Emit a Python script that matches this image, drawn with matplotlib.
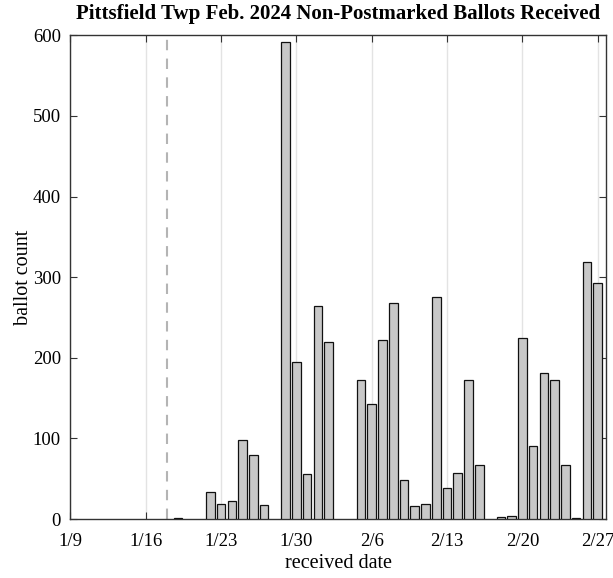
import datetime as dt

import matplotlib
matplotlib.use("Agg")
import matplotlib.pyplot as plt

plt.rcParams["font.family"] = ["Liberation Serif", "DejaVu Serif"]

# received date -> number of non-postmarked ballots
dates = [
    "2024-01-19", "2024-01-22", "2024-01-23", "2024-01-24", "2024-01-25",
    "2024-01-26", "2024-01-27", "2024-01-29", "2024-01-30", "2024-01-31",
    "2024-02-01", "2024-02-02", "2024-02-05", "2024-02-06", "2024-02-07",
    "2024-02-08", "2024-02-09", "2024-02-10", "2024-02-11", "2024-02-12",
    "2024-02-13", "2024-02-14", "2024-02-15", "2024-02-16", "2024-02-18",
    "2024-02-19", "2024-02-20", "2024-02-21", "2024-02-22", "2024-02-23",
    "2024-02-24", "2024-02-25", "2024-02-26", "2024-02-27",
]
counts = [
    1, 34, 19, 22, 98,
    80, 17, 592, 195, 56,
    264, 220, 173, 143, 222,
    268, 48, 16, 19, 276,
    38, 57, 172, 67, 3,
    4, 224, 91, 181, 173,
    67, 1, 319, 293,
]
tick_dates = ["2024-01-09", "2024-01-16", "2024-01-23", "2024-01-30",
              "2024-02-06", "2024-02-13", "2024-02-20", "2024-02-27"]
cutoff_date = "2024-01-18"

x = [dt.datetime.fromisoformat(d) for d in dates]
ticks = [dt.datetime.fromisoformat(d) for d in tick_dates]

fig = plt.figure(figsize=(6.13, 5.78), dpi=100)
ax = fig.add_axes([0.115, 0.102, 0.874, 0.837])

ax.bar(x, counts, width=0.8, color="#c8c8c8", edgecolor="#111111",
       linewidth=0.9, zorder=3)
ax.axvline(dt.datetime.fromisoformat(cutoff_date), color="#b4b4b4",
           linestyle=(0, (5, 4)), linewidth=1.5, zorder=2)

ax.set_xticks(ticks)
ax.set_xticklabels([f"{t.month}/{t.day}" for t in ticks])
ax.set_xlim(ticks[0], ticks[-1] + dt.timedelta(days=0.8))
ax.set_ylim(0, 600)
ax.set_yticks(range(0, 601, 100))
ax.grid(axis="x", color="#e3e3e3", linewidth=1.0, zorder=0)

ax.tick_params(direction="in", top=True, right=True, length=5,
               width=0.8, color="#333333", labelsize=13.5)
ax.tick_params(axis="x", pad=10)
ax.tick_params(axis="y", pad=7)
for s in ax.spines.values():
    s.set_color("#333333")
    s.set_linewidth(1.0)

ax.set_xlabel("received date", fontsize=14.5, labelpad=3)
ax.set_ylabel("ballot count", fontsize=14.5, labelpad=0)
ax.set_title("Pittsfield Twp Feb. 2024 Non-Postmarked Ballots Received",
             fontsize=15, fontweight="bold", pad=12)

fig.savefig("out.png", dpi=100)
